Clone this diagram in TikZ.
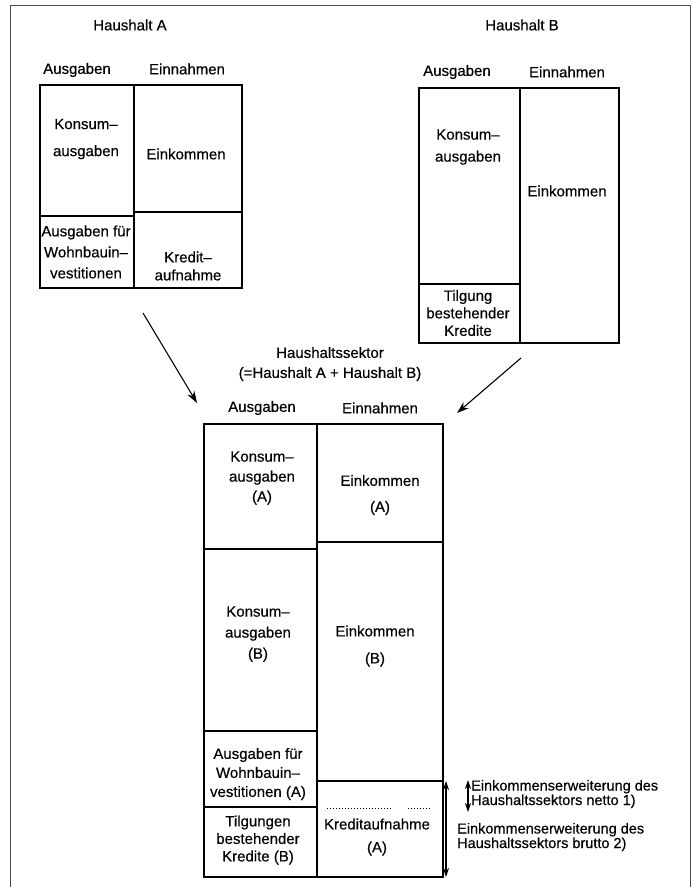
\documentclass[tikz,border=0pt]{standalone}
\usepackage{fontspec}
\setmainfont[FakeBold=0.4]{Liberation Sans}
\usetikzlibrary{arrows.meta}
\begin{document}
\begin{tikzpicture}[x=1pt,y=-1pt,
  cell/.style={draw=black,line width=1.2pt},
  txt/.style={inner sep=0pt,align=center,font=\fontsize{15}{#1}\selectfont},
  txt/.default=20,
  sidetxt/.style={inner sep=0pt,align=left,anchor=west,font=\fontsize{14.5}{13.5}\selectfont},
  frame/.style={draw=black!70,line width=1pt},
  conn/.style={line width=1.1pt,-{Stealth[length=12pt,width=8pt]}},
  dbl/.style={line width=1.1pt,{Stealth[length=9pt,width=6pt]}-{Stealth[length=9pt,width=6pt]}}
]
\useasboundingbox (0,0) rectangle (693,887);
% outer frame
\draw[frame] (10,887) -- (10,5) -- (690,5) -- (690,887);

% ---------- Haushalt A ----------
\node[txt] (titleA) at (130,25) {Haushalt A};
\node[txt] (ausA) at (77,70) {Ausgaben};
\node[txt] (einA) at (187,69) {Einnahmen};
\draw[cell] (40,85) rectangle (242,288);
\draw[cell] (134,85) -- (134,288);
\draw[cell] (40,216) -- (134,216);
\draw[cell] (134,212) -- (242,212);
\node[txt=27] (konsA) at (86,139) {Konsum–\\ausgaben};
\node[txt] (einkA) at (186,154) {Einkommen};
\node[txt=21] (wohnA) at (86,252) {Ausgaben für\\Wohnbauin–\\vestitionen};
\node[txt=18] (kredA) at (188,266) {Kredit–\\aufnahme};

% ---------- Haushalt B ----------
\node[txt] (titleB) at (522,25) {Haushalt B};
\node[txt] (ausB) at (457,72) {Ausgaben};
\node[txt] (einB) at (567,72) {Einnahmen};
\draw[cell] (419,88) rectangle (619,343);
\draw[cell] (520,88) -- (520,343);
\draw[cell] (419,284) -- (520,284);
\node[txt=22] (konsB) at (468,147) {Konsum–\\ausgaben};
\node[txt] (einkB) at (567,191) {Einkommen};
\node[txt=17.5] (tilgB) at (468,313) {Tilgung\\bestehender\\Kredite};

% ---------- Haushaltssektor ----------
\node[txt] (titleS) at (330,364) {Haushaltssektor\\(=Haushalt A + Haushalt B)};
\node[txt] (ausS) at (262,408) {Ausgaben};
\node[txt] (einS) at (380,408) {Einnahmen};
\draw[cell] (204,424) rectangle (443,877);
\draw[cell] (317,424) -- (317,877);
\draw[cell] (204,549) -- (317,549);
\draw[cell] (204,731) -- (317,731);
\draw[cell] (204,807) -- (317,807);
\draw[cell] (317,542) -- (443,542);
\draw[cell] (317,781) -- (443,781);
\node[txt] (konsSA) at (262,478) {Konsum–\\ausgaben\\(A)};
\node[txt=26] (einkSA) at (380,495) {Einkommen\\(A)};
\node[txt=21] (konsSB) at (258,634) {Konsum–\\ausgaben\\(B)};
\node[txt=27] (einkSB) at (375,646) {Einkommen\\(B)};
\node[txt=19] (wohnS) at (258,774) {Ausgaben für\\Wohnbauin–\\vestitionen (A)};
\node[txt=17.5] (tilgS) at (258,840) {Tilgungen\\bestehender\\Kredite (B)};
\node[txt=23] (kredS) at (377,837) {Kreditaufnahme\\(A)};
\draw[line width=1pt,dotted] (327,808) -- (391,808);
\draw[line width=1pt,dotted] (408,808) -- (430,808);

% ---------- arrows ----------
\coordinate (aTail) at (143,313);
\coordinate (aHead) at (197,403);
\coordinate (bTail) at (521,358);
\coordinate (bHead) at (457,413);
\draw[conn] (aTail) -- (aHead);
\draw[conn] (bTail) -- (bHead);

\coordinate (bigTop) at (446,781);
\coordinate (bigBot) at (446,877);
\coordinate (smTop) at (468,780);
\coordinate (smBot) at (468,812);
\draw[dbl] (bigTop) -- (bigBot);
\draw[dbl] (smTop) -- (smBot);
\node[sidetxt] (netto) at (471,794) {Einkommenserweiterung des\\Haushaltssektors netto 1)};
\node[sidetxt] (brutto) at (457,837) {Einkommenserweiterung des\\Haushaltssektors brutto 2)};
\end{tikzpicture}
\end{document}
